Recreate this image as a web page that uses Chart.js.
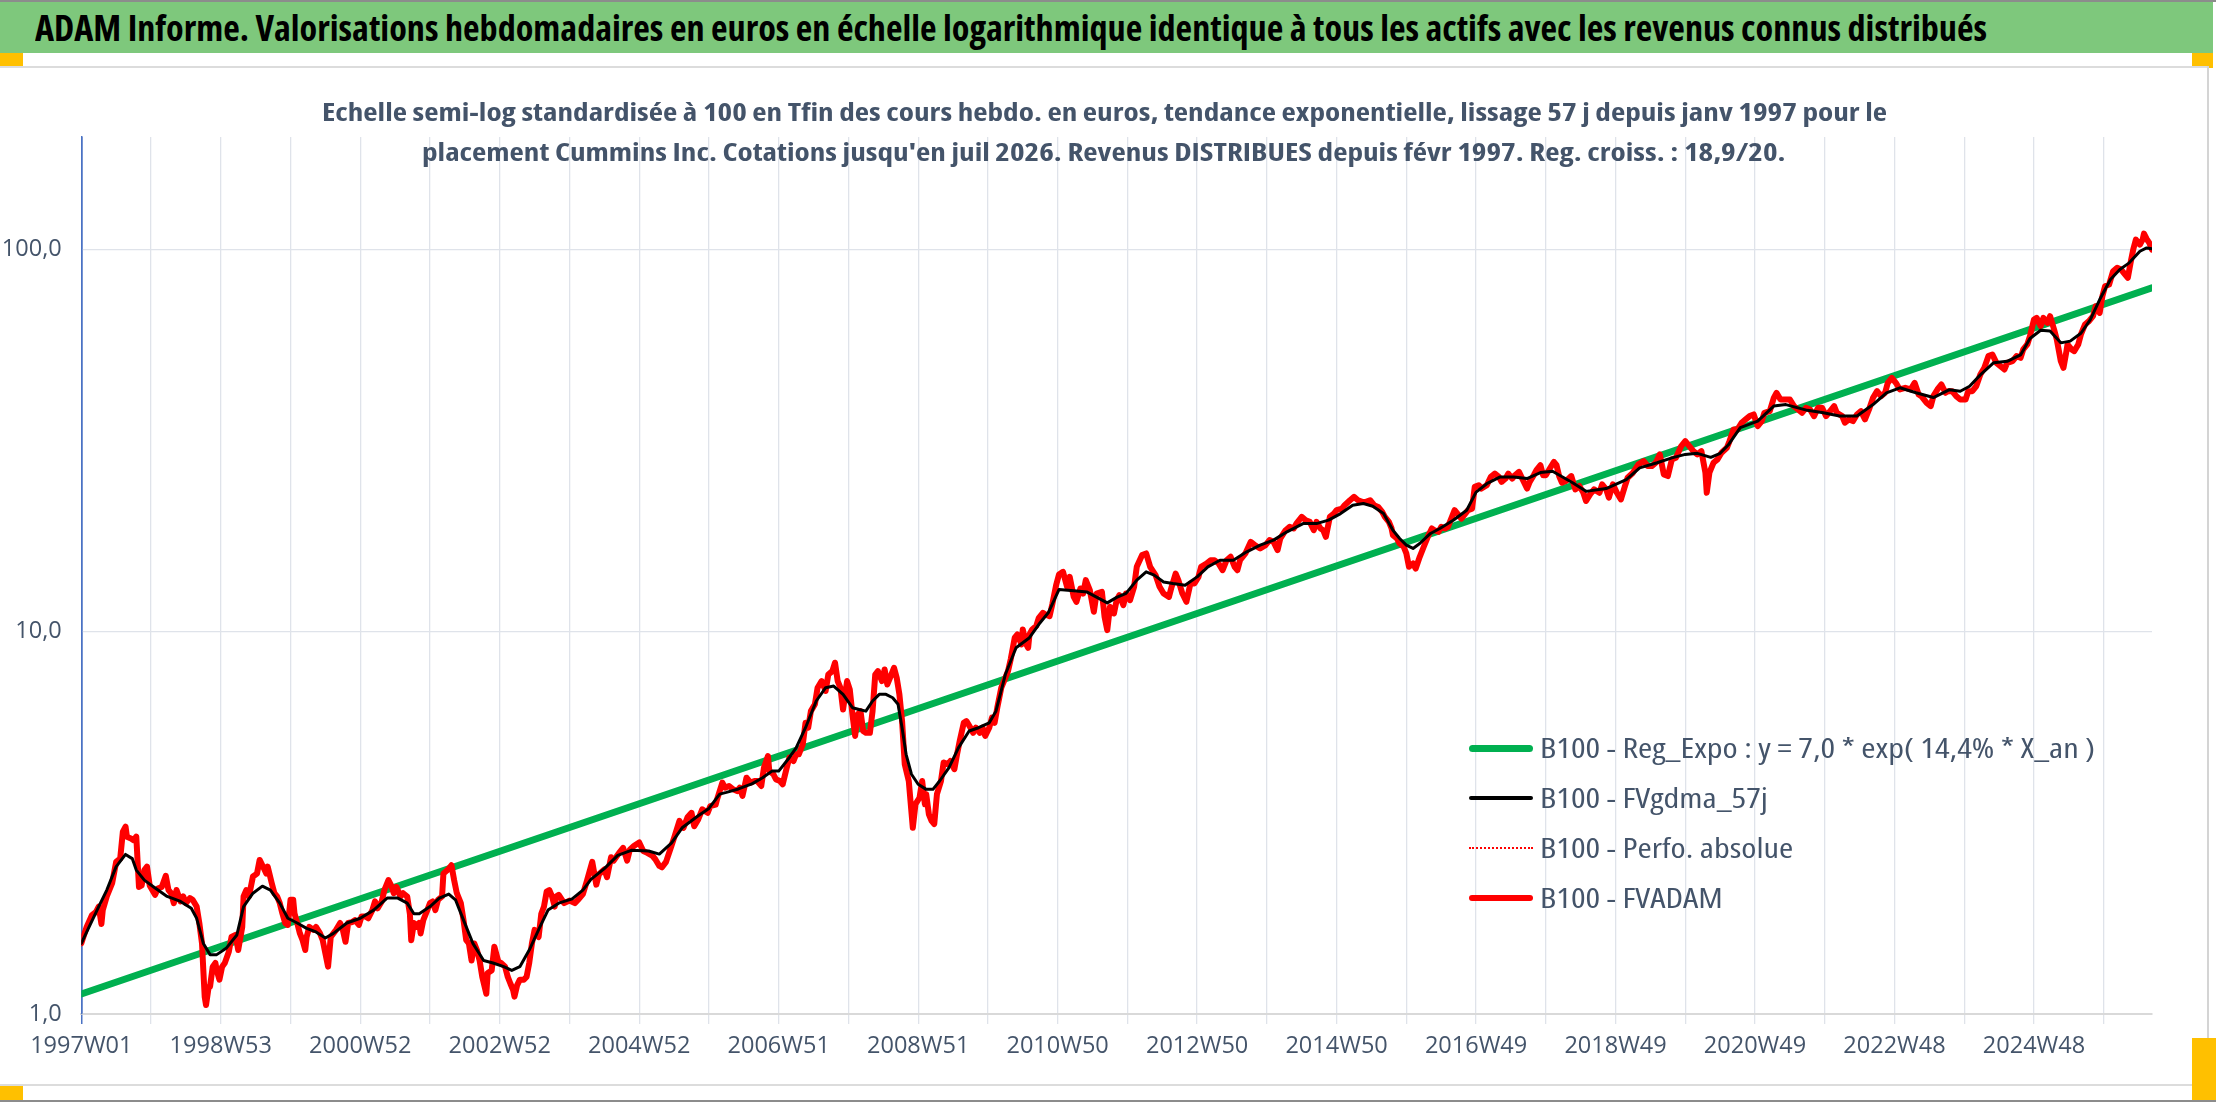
<!DOCTYPE html>
<html>
<head>
<meta charset="utf-8">
<script src="https://cdn.jsdelivr.net/npm/chart.js@4.4.1/dist/chart.umd.min.js"></script>
<style>
html,body{margin:0;padding:0;width:2216px;height:1102px;overflow:hidden;background:#fff;}
.abs{position:absolute;}
#topline{left:0;top:0;width:2216px;height:2px;background:#8c8c8c;}
#titlebar{left:0;top:2px;width:2213px;height:51px;background:#7ec87c;}
#title{left:35px;top:2px;height:51px;line-height:51px;font-weight:bold;font-size:35px;color:#000;white-space:nowrap;transform-origin:0 50%;}
#boxtop{left:0;top:66px;width:2208px;height:2px;background:#dcdcdc;}
#boxright{left:2207px;top:66px;width:2px;height:1020px;background:#d4d4d4;}
#boxbottom{left:0;top:1084px;width:2208px;height:2px;background:#dcdcdc;}
#bottomline{left:0;top:1100px;width:2216px;height:2px;background:#8c8c8c;}
.handle{background:#ffc000;}
.sub{height:40px;line-height:40px;font-weight:bold;font-size:25px;color:#44546a;white-space:nowrap;transform-origin:0 50%;}
#chart{left:0;top:67px;}
.lrow{position:absolute;left:1469px;height:50px;display:flex;align-items:center;white-space:nowrap;}
.lsample{width:64px;flex:none;}
.ltext{margin-left:7px;font-size:26.5px;color:#44546a;transform-origin:0 50%;line-height:50px;}
</style>
</head>
<body>
<div id="topline" class="abs"></div>
<div id="titlebar" class="abs"></div>
<div id="title" class="abs txt">ADAM Informe. Valorisations hebdomadaires en euros en échelle logarithmique identique à tous les actifs avec les revenus connus distribués</div>
<div class="abs handle" style="left:0;top:53px;width:23px;height:13px;"></div>
<div class="abs handle" style="left:2192px;top:53px;width:21px;height:15px;"></div>
<div id="boxtop" class="abs"></div>
<div id="boxright" class="abs"></div>
<div id="boxbottom" class="abs"></div>
<div class="abs handle" style="left:0;top:1086px;width:23px;height:14px;"></div>
<div class="abs handle" style="left:2192px;top:1038px;width:24px;height:62px;"></div>
<div id="bottomline" class="abs"></div>
<canvas id="chart" class="abs" width="2208" height="1018"></canvas>
<div id="sub1" class="abs sub txt" style="top:91px;">Echelle semi-log standardisée à 100 en Tfin des cours hebdo. en euros, tendance exponentielle, lissage 57 j depuis janv 1997 pour le</div>
<div id="sub2" class="abs sub txt" style="top:131px;">placement Cummins Inc. Cotations jusqu'en juil 2026. Revenus DISTRIBUES depuis févr 1997. Reg. croiss. : 18,9/20.</div>
<div id="legend"></div>
<script>
// ---------- DATA ----------
const xTickLabels = ['1997W01','1998W53','2000W52','2002W52','2004W52','2006W51','2008W51','2010W50','2012W50','2014W50','2016W49','2018W49','2020W49','2022W48','2024W48'];
const labelStep = 104;   // weeks between two labels
const gridStep = 52;     // weeks between two vertical gridlines
const lastWeek = 1544;   // index of the last weekly quotation
const yTickValues = [1, 10, 100];

// [week index since 1997W01, value]
const regExpoSeries = [[0,1.128],[1544,79.4]];

const fvadamSeries = [[0,1.53],[4,1.69],[8,1.815],[11,1.85],[13,1.91],[15,1.72],[16,1.87],[19,2.03],[23,2.2],[26,2.5],[29,2.55],[31,3.0],[33,3.09],[34,2.91],[37,2.88],[39,2.85],[41,2.91],[43,2.15],[45,2.17],[47,2.38],[49,2.43],[51,2.17],[55,2.05],[57,2.13],[60,2.15],[63,2.3],[65,2.11],[67,2.07],[69,1.95],[71,2.11],[74,1.97],[76,2.03],[78,1.95],[81,2.01],[83,1.99],[86,1.91],[88,1.73],[90,1.53],[91,1.3],[92,1.11],[93,1.056],[95,1.18],[96,1.18],[98,1.33],[100,1.36],[101,1.3],[103,1.23],[105,1.33],[107,1.36],[110,1.455],[112,1.59],[115,1.61],[117,1.47],[120,1.69],[121,2.03],[123,2.11],[125,2.03],[128,2.29],[131,2.33],[133,2.53],[135,2.45],[138,2.33],[139,2.43],[142,2.2],[144,2.07],[146,2.03],[148,1.95],[150,1.83],[152,1.73],[154,1.71],[156,1.99],[158,1.99],[159,1.83],[161,1.73],[163,1.625],[165,1.56],[167,1.47],[168,1.59],[170,1.69],[173,1.66],[175,1.69],[178,1.625],[180,1.56],[182,1.44],[184,1.33],[186,1.59],[188,1.625],[190,1.66],[193,1.73],[195,1.66],[197,1.545],[199,1.73],[202,1.74],[204,1.76],[207,1.71],[209,1.8],[212,1.8],[214,1.78],[217,1.87],[219,1.97],[221,1.89],[224,1.97],[226,2.11],[229,2.24],[231,2.17],[233,2.07],[235,2.15],[238,2.03],[240,2.07],[243,2.03],[245,1.83],[246,1.56],[248,1.73],[250,1.69],[252,1.73],[253,1.625],[255,1.76],[258,1.87],[260,1.95],[262,1.97],[264,1.87],[266,1.99],[269,2.03],[270,2.33],[274,2.4],[276,2.45],[278,2.24],[280,2.07],[283,1.95],[285,1.76],[287,1.56],[289,1.53],[291,1.38],[293,1.53],[295,1.47],[297,1.38],[299,1.25],[302,1.13],[303,1.28],[306,1.3],[308,1.5],[311,1.37],[313,1.36],[316,1.33],[318,1.25],[320,1.2],[322,1.155],[323,1.11],[325,1.19],[327,1.23],[330,1.23],[332,1.25],[334,1.36],[336,1.53],[338,1.66],[341,1.59],[343,1.83],[345,1.91],[347,2.09],[349,2.11],[351,2.03],[353,1.91],[354,2.03],[356,2.05],[360,1.95],[364,1.98],[368,1.95],[371,2.0],[374,2.06],[377,2.23],[381,2.5],[384,2.18],[386,2.32],[390,2.39],[392,2.28],[395,2.57],[397,2.52],[401,2.64],[404,2.72],[407,2.52],[409,2.69],[412,2.75],[416,2.81],[419,2.67],[422,2.64],[426,2.59],[428,2.54],[431,2.44],[433,2.42],[436,2.5],[440,2.75],[442,2.89],[446,3.2],[449,3.07],[452,3.27],[455,3.36],[457,3.1],[460,3.23],[463,3.43],[467,3.36],[469,3.5],[473,3.53],[474,3.64],[478,4.03],[480,3.91],[483,3.95],[486,3.87],[489,3.83],[491,3.91],[493,3.72],[496,4.15],[499,4.03],[502,4.07],[504,4.07],[507,3.95],[509,4.41],[512,4.73],[513,4.32],[516,4.24],[518,4.11],[521,4.07],[523,3.99],[526,4.41],[528,4.69],[531,4.59],[533,4.78],[535,4.78],[538,5.08],[540,5.78],[542,5.61],[544,6.2],[547,6.46],[549,7.14],[552,7.43],[555,7.0],[557,7.73],[560,7.89],[562,8.3],[564,7.43],[566,7.14],[568,6.26],[571,7.43],[573,7.07],[575,6.08],[577,5.34],[579,6.08],[581,6.2],[583,5.5],[585,5.44],[588,5.44],[590,6.2],[592,7.73],[594,7.89],[597,7.43],[599,7.97],[601,7.28],[603,7.58],[606,8.05],[608,7.58],[610,6.86],[612,5.84],[614,4.5],[617,4.07],[620,3.07],[622,3.54],[625,3.68],[627,4.07],[629,3.54],[630,3.76],[632,3.33],[634,3.2],[636,3.14],[638,3.76],[641,4.07],[643,4.55],[646,4.5],[648,4.59],[651,4.37],[653,4.78],[655,5.18],[658,5.78],[660,5.84],[663,5.61],[665,5.44],[667,5.61],[670,5.44],[672,5.61],[674,5.34],[677,5.61],[679,5.96],[681,5.78],[683,6.33],[686,7.14],[688,7.43],[691,7.89],[693,8.47],[696,9.65],[698,9.84],[701,9.27],[702,10.14],[704,9.36],[706,9.08],[707,9.84],[709,10.14],[712,10.35],[714,10.88],[717,11.21],[719,11.1],[722,10.99],[724,11.79],[727,13.3],[729,14.12],[732,14.35],[735,13.11],[737,13.92],[740,12.34],[742,11.98],[745,12.98],[747,12.59],[749,13.65],[752,12.85],[755,11.28],[757,12.59],[761,12.72],[763,10.94],[765,10.1],[767,11.62],[770,11.17],[772,12.1],[774,12.47],[777,11.74],[779,12.59],[782,12.1],[785,13.11],[787,14.79],[791,15.87],[794,16.03],[797,14.79],[801,14.07],[804,13.11],[807,12.59],[811,12.34],[813,13.11],[816,14.2],[818,13.65],[821,12.59],[824,11.98],[827,13.37],[830,13.37],[833,13.92],[835,14.79],[839,15.09],[842,15.39],[845,15.39],[848,15.09],[851,14.49],[854,15.39],[857,15.71],[860,14.79],[862,14.49],[864,15.39],[868,16.03],[872,17.19],[875,16.85],[879,16.52],[883,16.85],[886,17.37],[889,17.19],[892,16.36],[894,17.54],[898,18.44],[901,18.81],[904,18.63],[906,19.19],[910,19.98],[913,19.58],[916,19.39],[919,18.44],[921,19.39],[924,18.63],[926,18.44],[928,17.72],[931,19.98],[934,20.38],[936,20.8],[940,21.0],[942,21.44],[946,22.09],[949,22.54],[952,22.09],[955,21.87],[958,21.87],[961,22.09],[964,21.44],[967,21.22],[970,20.59],[972,19.98],[975,19.39],[977,18.63],[978,17.89],[981,17.54],[983,17.02],[986,16.69],[988,16.03],[990,14.79],[993,15.09],[995,14.64],[998,15.71],[1001,16.69],[1004,17.72],[1007,18.63],[1009,18.44],[1012,18.26],[1014,18.81],[1017,18.63],[1019,18.81],[1022,19.98],[1024,20.8],[1027,20.18],[1029,19.78],[1032,20.38],[1034,20.8],[1037,21.0],[1039,23.94],[1042,24.18],[1044,23.7],[1048,24.18],[1051,25.42],[1054,25.93],[1057,25.42],[1059,24.67],[1062,25.17],[1064,25.93],[1067,25.17],[1069,25.68],[1072,26.2],[1075,24.92],[1078,23.7],[1080,24.67],[1083,25.68],[1085,26.46],[1088,27.27],[1090,25.68],[1092,25.68],[1095,26.73],[1098,27.82],[1100,27.27],[1102,25.5],[1104,24.55],[1107,24.79],[1111,25.55],[1114,23.58],[1117,24.06],[1120,23.11],[1122,21.98],[1125,22.88],[1128,23.58],[1132,23.11],[1134,24.3],[1137,23.58],[1139,22.43],[1142,24.3],[1145,23.11],[1148,22.2],[1151,24.06],[1153,25.29],[1157,26.07],[1161,27.41],[1165,27.96],[1168,27.13],[1171,27.13],[1174,27.68],[1177,29.11],[1180,25.8],[1183,25.55],[1186,28.25],[1189,28.53],[1193,30.61],[1196,31.54],[1199,30.61],[1202,29.7],[1205,29.11],[1208,29.7],[1211,26.07],[1212,23.11],[1214,26.07],[1217,27.68],[1220,28.25],[1223,29.4],[1227,30.3],[1229,31.54],[1232,33.84],[1235,33.84],[1238,35.23],[1241,35.94],[1244,36.67],[1247,37.03],[1250,34.53],[1253,35.58],[1255,37.41],[1259,37.78],[1262,40.94],[1264,42.19],[1267,40.53],[1270,40.53],[1274,40.53],[1277,38.94],[1280,38.16],[1283,37.41],[1286,38.55],[1289,38.16],[1292,36.67],[1295,38.55],[1298,38.55],[1301,36.67],[1304,37.78],[1307,38.94],[1309,37.41],[1313,36.67],[1315,35.23],[1318,35.94],[1321,35.58],[1324,37.03],[1327,37.78],[1330,35.94],[1333,38.16],[1336,40.94],[1339,42.61],[1342,41.35],[1345,42.19],[1347,44.81],[1350,46.18],[1353,44.81],[1356,43.05],[1360,43.48],[1364,43.05],[1367,44.81],[1370,41.77],[1372,41.35],[1376,39.7],[1379,38.94],[1381,41.35],[1384,43.05],[1387,44.36],[1390,42.19],[1392,42.61],[1395,42.61],[1398,41.35],[1401,40.53],[1405,40.53],[1407,42.61],[1410,42.61],[1413,43.92],[1416,47.11],[1419,49.05],[1422,52.62],[1425,53.15],[1428,50.54],[1431,49.54],[1434,48.56],[1436,50.54],[1440,51.05],[1443,52.62],[1446,52.09],[1448,54.78],[1451,56.45],[1453,59.36],[1456,65.61],[1458,66.26],[1461,63.03],[1463,66.26],[1466,64.31],[1468,66.93],[1471,61.78],[1473,58.18],[1476,51.05],[1478,49.05],[1480,53.7],[1481,56.45],[1484,54.78],[1486,54.24],[1489,56.45],[1491,59.95],[1494,63.66],[1497,64.96],[1500,66.93],[1502,71.08],[1505,68.31],[1507,75.51],[1509,80.2],[1512,81.01],[1515,87.78],[1518,89.57],[1521,88.67],[1524,86.03],[1526,84.36],[1528,92.28],[1530,100],[1532,106.2],[1535,103.1],[1537,106.2],[1538,110.1],[1540,106.6],[1542,104.1],[1544,100]];

const perfoAbsolueSeries = fvadamSeries;

const fvgdmaSeries = [[0,1.53],[13,1.91],[19,2.11],[26,2.43],[33,2.615],[38,2.55],[41,2.38],[47,2.24],[54,2.15],[64,2.03],[74,1.97],[82,1.89],[86,1.78],[91,1.53],[96,1.43],[101,1.43],[108,1.485],[116,1.61],[121,1.91],[128,2.07],[135,2.16],[141,2.11],[148,1.95],[154,1.78],[161,1.73],[168,1.675],[175,1.64],[182,1.58],[188,1.625],[198,1.73],[208,1.78],[218,1.87],[228,2.01],[236,2.01],[243,1.95],[248,1.83],[252,1.83],[260,1.91],[267,2.01],[274,2.06],[279,1.99],[285,1.76],[292,1.53],[300,1.38],[307,1.36],[315,1.33],[321,1.3],[327,1.33],[334,1.47],[342,1.69],[348,1.87],[356,1.95],[366,2.0],[374,2.11],[380,2.25],[390,2.4],[400,2.6],[410,2.68],[423,2.67],[431,2.62],[440,2.8],[448,3.07],[460,3.3],[468,3.45],[476,3.76],[481,3.8],[490,3.88],[500,4.0],[508,4.15],[515,4.32],[520,4.32],[528,4.69],[533,4.97],[540,5.61],[548,6.59],[555,7.14],[561,7.21],[568,6.86],[575,6.33],[580,6.26],[585,6.2],[590,6.59],[595,6.86],[600,6.86],[605,6.72],[609,6.46],[612,5.61],[615,4.78],[619,4.24],[624,3.99],[630,3.87],[635,3.87],[640,4.07],[647,4.41],[654,4.97],[662,5.5],[669,5.61],[677,5.78],[682,6.2],[689,7.73],[697,9.08],[707,9.65],[714,10.46],[721,11.21],[729,12.9],[740,12.8],[750,12.7],[765,11.9],[772,12.3],[779,12.6],[787,13.65],[794,14.35],[800,14.07],[807,13.5],[814,13.37],[823,13.24],[832,13.92],[840,14.79],[849,15.39],[859,15.39],[869,16.19],[879,16.85],[889,17.37],[899,18.26],[911,19.19],[921,19.19],[930,19.6],[939,20.38],[948,21.44],[956,21.66],[963,21.3],[971,20.38],[978,18.44],[983,17.54],[988,16.85],[993,16.52],[998,17.02],[1006,18.08],[1013,18.63],[1023,19.58],[1033,20.8],[1040,23.2],[1048,24.4],[1058,25.42],[1068,25.42],[1078,25.17],[1088,26.1],[1097,26.3],[1112,24.55],[1122,23.3],[1137,23.7],[1152,25.0],[1162,26.85],[1175,27.68],[1186,28.5],[1196,29.11],[1205,29.3],[1215,28.6],[1222,29.3],[1228,30.8],[1237,34.2],[1250,35.58],[1262,38.94],[1271,39.3],[1287,37.96],[1299,37.41],[1311,36.67],[1324,36.67],[1336,39.3],[1346,42.19],[1356,43.48],[1368,42.2],[1381,41.0],[1393,43.0],[1401,42.6],[1408,43.9],[1416,47.0],[1426,50.6],[1436,51.0],[1446,53.0],[1453,58.5],[1461,61.5],[1468,61.2],[1476,57.0],[1483,57.6],[1491,60.4],[1498,65.6],[1505,74.0],[1513,83.5],[1520,88.7],[1527,92.3],[1535,99.0],[1540,101],[1544,100.4]];

// ---------- FONT CHOICE (a narrow humanist face, as in the original) ----------
function pickFont() {
  const c = document.createElement('canvas').getContext('2d');
  const fams = ['Noto Sans', 'Open Sans', 'Roboto', 'Liberation Sans'];
  const stretches = ['condensed', 'semi-condensed'];
  const sample = '1998W53 Valorisations';
  let best = null;
  for (const f of fams) {
    c.font = "24px '" + f + "'";
    const w0 = c.measureText(sample).width;
    for (const st of stretches) {
      c.font = '10px serif';
      c.font = st + " 24px '" + f + "'";
      if (c.font.indexOf('24px') < 0) continue;
      const w1 = c.measureText(sample).width;
      if (w1 < w0 * 0.93) { best = {family: f, stretch: st}; break; }
    }
    if (best) break;
  }
  return best;
}
const picked = pickFont();
const FAMILY = picked ? "'" + picked.family + "'" : "'Liberation Sans',Arial,sans-serif";
const STRETCH = picked ? picked.stretch : 'normal';
const TICK_SIZE = picked ? 23.5 : 21.5;
document.querySelectorAll('.txt').forEach(el => { el.style.fontFamily = FAMILY; el.style.fontStretch = STRETCH; });

// ---------- CHART ----------
const GRID = '#dfe3ea';
const TXT = '#44546a';
const AXIS_BLUE = '#4a72c4';
const tickFont = {family: FAMILY, size: TICK_SIZE, style: STRETCH === 'normal' ? 'normal' : STRETCH};
const toXY = s => s.map(p => ({x: p[0], y: p[1]}));

const chart = new Chart(document.getElementById('chart'), {
  type: 'line',
  data: {
    datasets: [
      {label: 'B100 - Reg_Expo : y = 7,0 * exp( 14,4% *  X_an )', data: toXY(regExpoSeries), borderColor: '#00b050', borderWidth: 7, order: 4},
      {label: 'B100 - FVgdma_57j', data: toXY(fvgdmaSeries), borderColor: '#000000', borderWidth: 3, order: 1},
      {label: 'B100 - Perfo. absolue', data: toXY(perfoAbsolueSeries), borderColor: '#ff0000', borderWidth: 2, borderDash: [2, 3], order: 2},
      {label: 'B100 - FVADAM', data: toXY(fvadamSeries), borderColor: '#ff0000', borderWidth: 6, order: 3}
    ]
  },
  options: {
    responsive: false,
    animation: false,
    devicePixelRatio: 1,
    layout: {padding: {left: 0, right: 56, top: 70, bottom: 0}},
    plugins: {legend: {display: false}, tooltip: {enabled: false}, title: {display: false}},
    elements: {
      point: {radius: 0, hoverRadius: 0},
      line: {tension: 0, borderJoinStyle: 'round', borderCapStyle: 'round', fill: false}
    },
    scales: {
      x: {
        type: 'linear', min: 0, max: lastWeek,
        afterBuildTicks: s => { const t = []; for (let v = 0; v <= lastWeek; v += gridStep) t.push({value: v}); s.ticks = t; },
        afterFit: s => { s.height = 71; },
        ticks: {
          autoSkip: false, maxRotation: 0, minRotation: 0, padding: 8, color: TXT,
          font: tickFont,
          callback: v => (v % labelStep === 0 && xTickLabels[v / labelStep]) ? xTickLabels[v / labelStep] : ''
        },
        grid: {
          color: c => (c.tick && c.tick.value === 0) ? AXIS_BLUE : GRID,
          lineWidth: c => (c.tick && c.tick.value === 0) ? 1.5 : 1.3,
          tickLength: 10, drawTicks: true
        },
        border: {display: true, color: '#d9d9d9', width: 2}
      },
      y: {
        type: 'logarithmic', min: 1, max: 197,
        afterBuildTicks: s => { s.ticks = yTickValues.map(v => ({value: v})); },
        afterFit: s => { s.width = 81.3; },
        ticks: {padding: 19.6, color: TXT, font: tickFont, callback: v => Number(v).toFixed(1).replace('.', ',')},
        grid: {color: GRID, lineWidth: 1.3, drawTicks: false},
        border: {display: true, color: AXIS_BLUE, width: 1.5}
      }
    }
  }
});

// ---------- TEXT LAYOUT (title, subtitle, legend) ----------
function naturalWidth(el) { el.style.display = 'inline-block'; return el.getBoundingClientRect().width; }
const title = document.getElementById('title');
title.style.transform = 'scaleX(' + (1952 / naturalWidth(title)) + ')';

const s1 = document.getElementById('sub1'), s2 = document.getElementById('sub2');
const subScale = 1565 / naturalWidth(s1);
const center = 1104;
[s1, s2].forEach(el => {
  const w = naturalWidth(el) * subScale;
  el.style.left = (center - w / 2) + 'px';
  el.style.transform = 'scaleX(' + subScale + ')';
});

const legend = document.getElementById('legend');
let legendScale = null;
chart.data.datasets.forEach((ds, k) => {
  const row = document.createElement('div');
  row.className = 'lrow';
  row.style.top = (748 + 50 * k - 25) + 'px';
  const sample = document.createElement('div');
  sample.className = 'lsample';
  if (ds.borderDash) {
    sample.style.borderTop = '2.5px dotted ' + ds.borderColor;
  } else {
    sample.style.height = Math.max(4, ds.borderWidth) + 'px';
    sample.style.background = ds.borderColor;
    sample.style.borderRadius = '4px';
  }
  const text = document.createElement('span');
  text.className = 'ltext';
  text.style.fontFamily = FAMILY;
  text.style.fontStretch = STRETCH;
  text.textContent = ds.label;
  row.appendChild(sample); row.appendChild(text);
  legend.appendChild(row);
  text.style.display = 'inline-block';
  if (legendScale === null) legendScale = 555 / text.getBoundingClientRect().width;
  text.style.transform = 'scaleX(' + legendScale + ')';
});
</script>
</body>
</html>
